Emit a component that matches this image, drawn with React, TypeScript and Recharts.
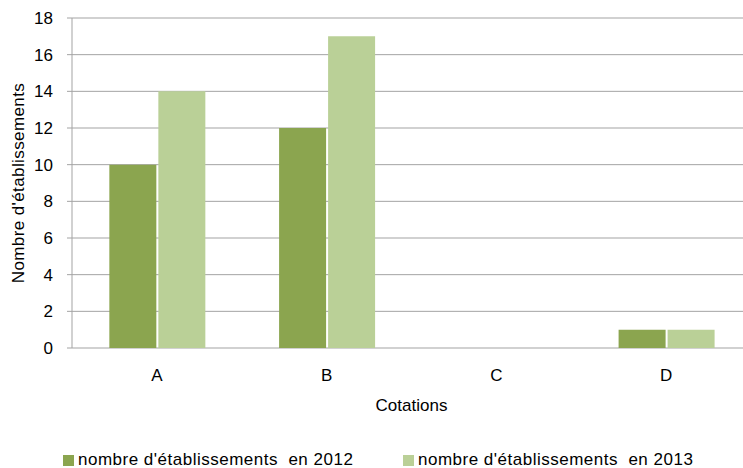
import React from 'react';
import { Bar, BarChart, CartesianGrid, Legend, XAxis, YAxis } from 'recharts';

const categories = ['A', 'B', 'C', 'D'];
const values2012 = [10, 12, 0, 1];
const values2013 = [14, 17, 0, 1];
const yTicks = [0, 2, 4, 6, 8, 10, 12, 14, 16, 18];
const boundaryTicks = [0, 1, 2, 3, 4];
const seriesNames = ["nombre d'établissements  en 2012", "nombre d'établissements  en 2013"];

const data = categories.map((name, i) => ({
  name,
  y2012: values2012[i],
  y2013: values2013[i],
}));

const FONT = '"Liberation Sans", Arial, sans-serif';
const DARK = '#8ba54f';
const LIGHT = '#bad097';
const GRID = '#a3a3a3';

const YLabel = (props: any) => {
  const { viewBox } = props;
  const cx = 18;
  const cy = viewBox.y + viewBox.height / 2;
  return (
    <text
      x={cx}
      y={cy}
      transform={`rotate(-90, ${cx}, ${cy})`}
      textAnchor="middle"
      dominantBaseline="central"
      fontSize={17}
      fontFamily={FONT}
      letterSpacing={0.4}
      fill="#000"
    >
      Nombre d'établissements
    </text>
  );
};

const LegendContent = () => (
  <div
    style={{
      position: 'relative',
      height: 24,
      fontFamily: FONT,
      fontSize: 17,
      letterSpacing: 0.5,
      whiteSpace: 'pre',
      color: '#000',
    }}
  >
    <div style={{ position: 'absolute', left: 63, top: 6, display: 'flex', alignItems: 'center' }}>
      <span style={{ width: 11, height: 11, background: DARK, marginRight: 4 }} />
      <span>{seriesNames[0]}</span>
    </div>
    <div style={{ position: 'absolute', left: 403, top: 6, display: 'flex', alignItems: 'center' }}>
      <span style={{ width: 11, height: 11, background: LIGHT, marginRight: 4 }} />
      <span>{seriesNames[1]}</span>
    </div>
  </div>
);

const App: React.FC = () => (
  <div
    style={{
      position: 'absolute',
      left: 0,
      top: 0,
      width: 743,
      height: 468,
      overflow: 'hidden',
      background: '#fff',
    }}
  >
    <BarChart
      width={751}
      height={468}
      data={data}
      margin={{ top: 18, right: 0, bottom: 0, left: 0 }}
      barCategoryGap="22%"
      barGap={2}
    >
      <CartesianGrid vertical={false} stroke={GRID} />
      <XAxis
        xAxisId="bounds"
        type="number"
        domain={[0, 4]}
        ticks={boundaryTicks}
        allowDataOverflow
        height={0}
        tickSize={5}
        stroke={GRID}
        tickFormatter={() => ''}
      />
      <XAxis
        xAxisId="cat"
        dataKey="name"
        height={96}
        axisLine={false}
        tickLine={false}
        tickSize={0}
        tickMargin={21}
        tick={{ fill: '#000', fontSize: 17, fontFamily: FONT }}
        label={{
          value: 'Cotations',
          position: 'insideBottom',
          offset: 33,
          fill: '#000',
          fontSize: 17,
          fontFamily: FONT,
        }}
      />
      <YAxis
        width={72}
        domain={[0, 18]}
        ticks={yTicks}
        interval={0}
        stroke={GRID}
        tickSize={5}
        tickMargin={14}
        tick={{ fill: '#000', fontSize: 17, fontFamily: FONT }}
        label={<YLabel />}
      />
      <Legend verticalAlign="bottom" content={<LegendContent />} />
      <Bar xAxisId="cat" dataKey="y2012" name={seriesNames[0]} fill={DARK} isAnimationActive={false} />
      <Bar xAxisId="cat" dataKey="y2013" name={seriesNames[1]} fill={LIGHT} isAnimationActive={false} />
    </BarChart>
  </div>
);

export default App;
